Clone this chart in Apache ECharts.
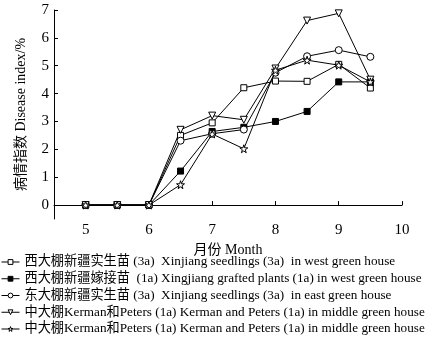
<!DOCTYPE html>
<html>
<head>
<meta charset="utf-8">
<script src="https://cdn.jsdelivr.net/npm/echarts@6/dist/echarts.min.js"></script>
<style>
  html, body { margin: 0; padding: 0; background: #fff; }
  #chart { width: 430px; height: 340px; }
</style>
</head>
<body>
<div id="chart"></div>
<script>
// 月份
var months = [5, 5.5, 6, 6.5, 7, 7.5, 8, 8.5, 9, 9.5];
var xTicks = [5, 6, 7, 8, 9, 10];
var yTicks = [0, 1, 2, 3, 4, 5, 6, 7];

var westSeedling = [0, 0, 0, 2.5, 2.95, 4.21, 4.45, 4.44, 5.05, 4.2];
var westGrafted = [0, 0, 0, 1.22, 2.64, 2.79, 3.0, 3.36, 4.42, 4.42];
var eastSeedling = [0, 0, 0, 2.31, 2.56, 2.71, 4.75, 5.34, 5.56, 5.32];
var middleKP1 = [0, 0, 0, 2.7, 3.21, 3.06, 4.9, 6.62, 6.88, 4.5];
var middleKP2 = [0, 0, 0, 0.73, 2.55, 2.02, 4.84, 5.2, 5.02, 4.42];

var names = [
    '西大棚新疆实生苗 (3a)  Xinjiang seedlings (3a)  in west green house',
    '西大棚新疆嫁接苗  (1a) Xingjiang grafted plants (1a) in west green house',
    '东大棚新疆实生苗 (3a)  Xinjiang seedlings (3a)  in east green house',
    '中大棚Kerman和Peters (1a) Kerman and Peters (1a) in middle green house',
    '中大棚Kerman和Peters (1a) Kerman and Peters (1a) in middle green house '
];
var fills = ['#fff', '#000', '#fff', '#fff', '#fff'];

var font = '"Liberation Serif", "Noto Sans CJK SC", serif';
var star = 'path://M50,0 L61,35 L98,35 L68,57 L79,91 L50,70 L21,91 L32,57 L2,35 L39,35 Z';

function pairs(vals) {
    return months.map(function (m, i) { return [m, vals[i]]; });
}

function line(name, vals, symbol, size, fill, rotate) {
    return {
        name: name,
        type: 'line',
        data: pairs(vals),
        symbol: symbol,
        symbolSize: size,
        symbolRotate: rotate || 0,
        showAllSymbol: true,
        lineStyle: { color: '#000', width: 1 },
        itemStyle: { color: fill, borderColor: '#000', borderWidth: 1 },
        emphasis: { disabled: true },
        animation: false
    };
}

var myChart = echarts.init(document.getElementById('chart'));
var option = {
    backgroundColor: '#fff',
    textStyle: { fontFamily: font },
    grid: {
        left: 54,
        right: 28,
        top: 10,
        bottom: 121
    },
    legend: {
        orient: 'vertical',
        left: 1,
        top: 255,
        itemWidth: 18,
        itemHeight: 6,
        itemGap: 2.75,
        padding: 0,
        textStyle: {
            fontFamily: font,
            fontSize: 13.2,
            color: '#000',
            lineHeight: 14
        },
        data: names.map(function (n, i) {
            return {
                name: n,
                itemStyle: { color: fills[i], borderColor: '#000', borderWidth: 1 },
                lineStyle: { color: '#000', width: 1 }
            };
        })
    },
    xAxis: {
        type: 'value',
        min: 4.5,
        max: 10,
        name: '月份 Month',
        nameLocation: 'middle',
        nameGap: 21,
        nameTextStyle: { fontFamily: font, fontSize: 14, color: '#000' },
        axisLine: { lineStyle: { color: '#000', width: 1 } },
        axisTick: { inside: true, length: 4, lineStyle: { color: '#000' }, customValues: xTicks },
        axisLabel: { color: '#000', fontSize: 15, fontFamily: font, margin: 4, customValues: xTicks },
        splitLine: { show: false }
    },
    yAxis: {
        type: 'value',
        min: -0.5,
        max: 7,
        name: '病情指数 Disease index/%',
        nameLocation: 'middle',
        nameGap: 26,
        nameTextStyle: { fontFamily: font, fontSize: 14, color: '#000' },
        axisLine: { show: true, lineStyle: { color: '#000', width: 1 } },
        axisTick: { show: true, inside: true, length: 4, lineStyle: { color: '#000' }, customValues: yTicks },
        axisLabel: { color: '#000', fontSize: 15, fontFamily: font, margin: 5, customValues: yTicks },
        splitLine: { show: false }
    },
    series: [
        line(names[0], westSeedling, 'rect', 6, fills[0]),
        line(names[1], westGrafted, 'rect', 6, fills[1]),
        line(names[2], eastSeedling, 'circle', 7, fills[2]),
        line(names[3], middleKP1, 'triangle', 7, fills[3], 180),
        line(names[4], middleKP2, star, 8, fills[4])
    ]
};

myChart.setOption(option);
</script>
</body>
</html>
